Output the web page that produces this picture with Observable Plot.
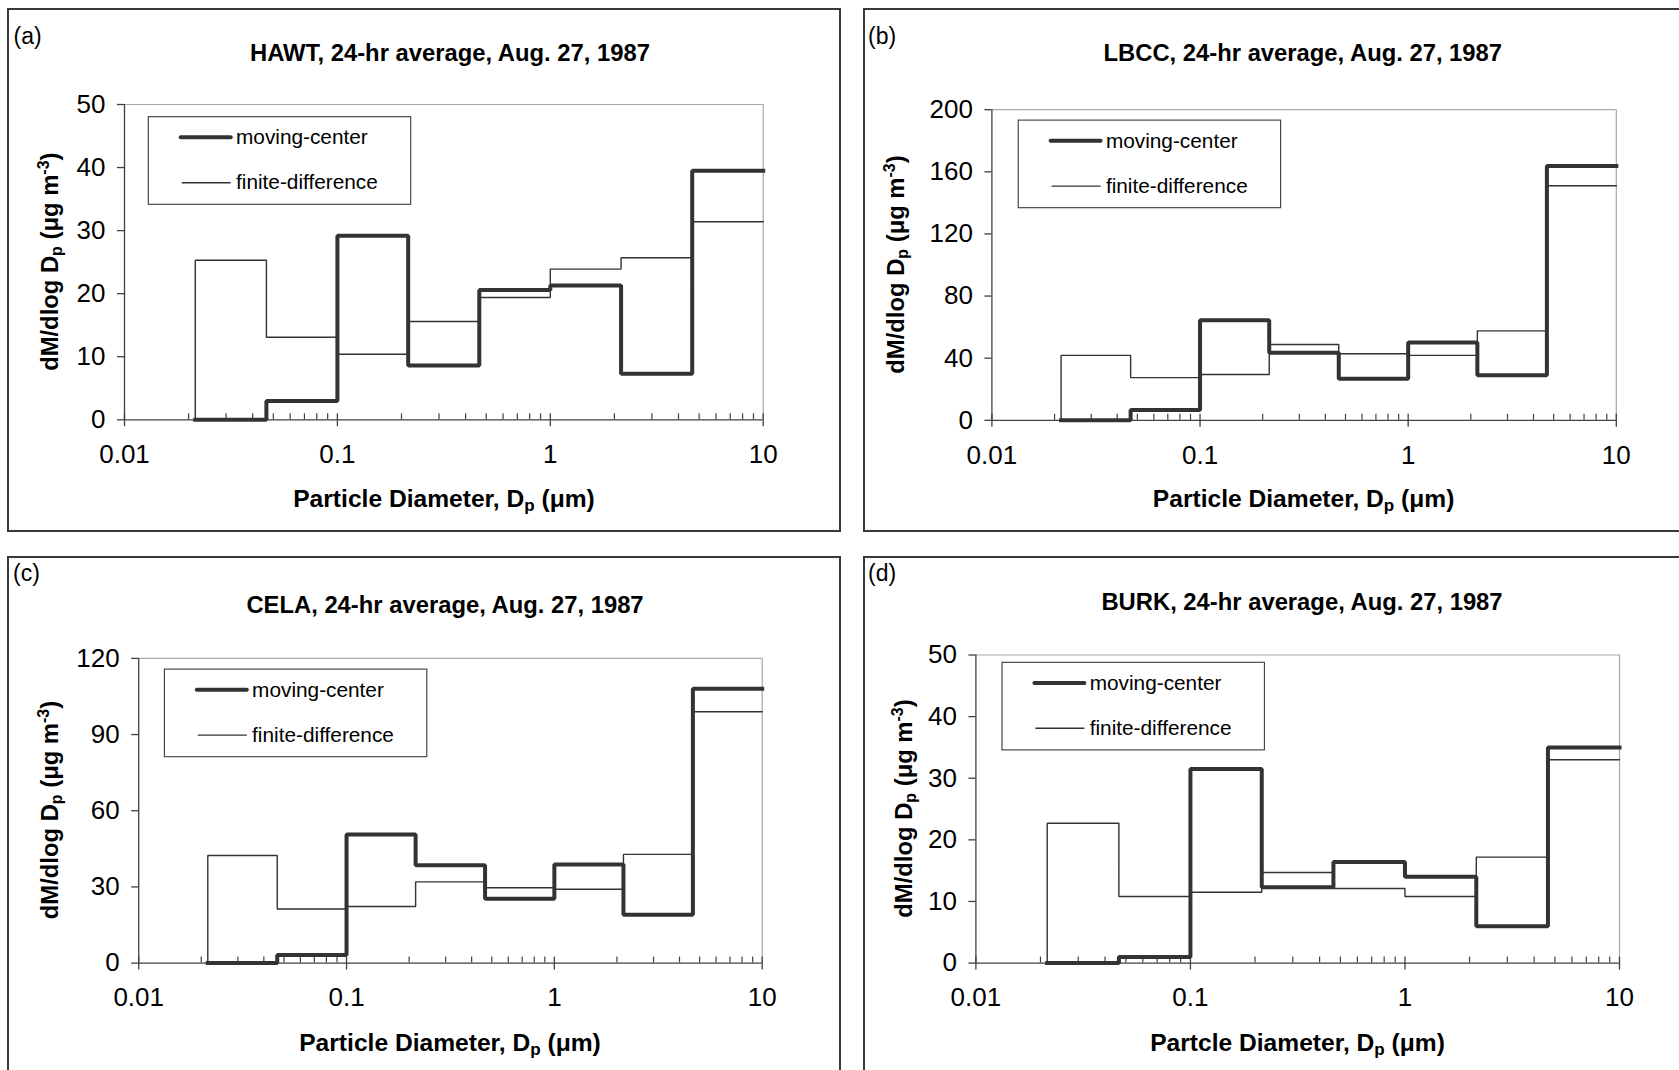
<!DOCTYPE html>
<html>
<head>
<meta charset="utf-8">
<script src="https://cdn.jsdelivr.net/npm/d3@7"></script>
<script src="https://cdn.jsdelivr.net/npm/@observablehq/plot@0.6"></script>
<style>
html, body { margin: 0; padding: 0; background: #fff; width: 1679px; height: 1070px; overflow: hidden; }
#page { position: relative; width: 1679px; height: 1070px; overflow: hidden; font-family: "Liberation Sans", Arial, sans-serif; }
.box { position: absolute; border: 2px solid #383838; box-sizing: border-box; }
.plotwrap { position: absolute; }
.plotwrap svg { display: block; }
#overlay { position: absolute; left: 0; top: 0; }
</style>
</head>
<body>
<div id="page"></div>
<script>
// ---------------- data ----------------
const binEdges = [0.0215, 0.0464, 0.1, 0.215, 0.464, 1, 2.15, 4.64, 10];
const xTickValues = [0.01, 0.1, 1, 10];
const xTickLabels = ["0.01", "0.1", "1", "10"];
const minorTicks = [0.02, 0.03, 0.04, 0.05, 0.06, 0.07, 0.08, 0.09,
                    0.2, 0.3, 0.4, 0.5, 0.6, 0.7, 0.8, 0.9,
                    2, 3, 4, 5, 6, 7, 8, 9];
const seriesNames = ["moving-center", "finite-difference"];

const hawtMoving = [0, 3.0, 29.2, 8.6, 20.6, 21.3, 7.3, 39.5];
const hawtFinite = [25.3, 13.1, 10.4, 15.6, 19.4, 23.9, 25.7, 31.4];
const lbccMoving = [0, 6.6, 64.4, 43.5, 26.8, 50.1, 29.0, 163.7];
const lbccFinite = [41.8, 27.5, 29.5, 48.8, 42.9, 41.8, 57.6, 151.0];
const celaMoving = [0, 3.2, 50.6, 38.5, 25.3, 38.8, 19.0, 108.0];
const celaFinite = [42.4, 21.3, 22.3, 32.0, 29.7, 29.1, 42.8, 99.0];
const burkMoving = [0, 1.0, 31.5, 12.3, 16.4, 14.0, 6.0, 35.0];
const burkFinite = [22.7, 10.8, 11.5, 14.7, 12.1, 10.8, 17.2, 33.0];

const yTicksA = [0, 10, 20, 30, 40, 50];
const yTicksB = [0, 40, 80, 120, 160, 200];
const yTicksC = [0, 30, 60, 90, 120];
const yTicksD = [0, 10, 20, 30, 40, 50];

const tags = ["(a)", "(b)", "(c)", "(d)"];
const titles = [
  "HAWT, 24-hr average, Aug. 27, 1987",
  "LBCC, 24-hr average, Aug. 27, 1987",
  "CELA, 24-hr average, Aug. 27, 1987",
  "BURK, 24-hr average, Aug. 27, 1987"
];
const xTitleWords = ["Particle Diameter, D", "Particle Diameter, D", "Particle Diameter, D", "Partcle Diameter, D"];

// ---------------- layout (page pixels) ----------------
const layouts = [
  {box:{l:7,t:8,w:834,h:523.5}, plot:{l:124,r:762.7,t:104,b:419.3}, tag:{x:13.5,y:44.3}, title:{x:450,y:60.7}, xTitle:{x:444,y:507}, yTitle:{x:58,y:261.7}, legend:{l:148.3,t:116.7}},
  {box:{l:863,t:8,w:830,h:523.5}, plot:{l:991.4,r:1615.8,t:109.2,b:419.8}, tag:{x:868,y:44.3}, title:{x:1302.8,y:60.7}, xTitle:{x:1303.6,y:507}, yTitle:{x:904,y:264.5}, legend:{l:1018.2,t:120.1}},
  {box:{l:7,t:556,w:834,h:530}, plot:{l:138.2,r:761.7,t:657.9,b:962.6}, tag:{x:13,y:581}, title:{x:445,y:613}, xTitle:{x:450,y:1050.5}, yTitle:{x:58,y:810}, legend:{l:164.4,t:669.1}},
  {box:{l:863,t:556,w:830,h:530}, plot:{l:975.4,r:1619,t:654.5,b:962.6}, tag:{x:868,y:581}, title:{x:1302,y:610}, xTitle:{x:1297.5,y:1050.5}, yTitle:{x:912,y:808.5}, legend:{l:1002,t:662.3}}
];

const panels = [
  {moving: hawtMoving, finite: hawtFinite, yTicks: yTicksA},
  {moving: lbccMoving, finite: lbccFinite, yTicks: yTicksB},
  {moving: celaMoving, finite: celaFinite, yTicks: yTicksC},
  {moving: burkMoving, finite: burkFinite, yTicks: yTicksD}
];

const FONT = '"Liberation Sans", Arial, sans-serif';
const INK = "#333333";
const AXIS = "#404040";
const TICK_FS = 26;
const BOLD_FS = 23.8;
const XT_FS = 24.6;
const LEG_FS = 20.8;

function stepPoints(values) {
  const pts = [{x: binEdges[0], y: 0}];
  values.forEach((v, i) => pts.push({x: binEdges[i], y: v}));
  pts.push({x: binEdges[binEdges.length - 1], y: values[values.length - 1]});
  return pts;
}

function xLabel(d) {
  const i = xTickValues.findIndex(v => Math.abs(v - d) < 1e-9 * Math.max(1, v));
  return i >= 0 ? xTickLabels[i] : String(d);
}

const page = document.getElementById("page");

panels.forEach((p, k) => {
  const L = layouts[k];
  const ymax = p.yTicks[p.yTicks.length - 1];

  const box = document.createElement("div");
  box.className = "box";
  Object.assign(box.style, {left: L.box.l + "px", top: L.box.t + "px", width: L.box.w + "px", height: L.box.h + "px"});
  page.appendChild(box);

  const wrap = document.createElement("div");
  wrap.className = "plotwrap";
  Object.assign(wrap.style, {left: L.box.l + "px", top: L.box.t + "px", width: L.box.w + "px", height: L.box.h + "px"});

  const chart = Plot.plot({
    width: L.box.w,
    height: L.box.h,
    marginLeft: L.plot.l - L.box.l,
    marginRight: L.box.l + L.box.w - L.plot.r,
    marginTop: L.plot.t - L.box.t,
    marginBottom: L.box.t + L.box.h - L.plot.b,
    x: {type: "log", domain: [0.01, 10], label: null},
    y: {domain: [0, ymax], label: null},
    style: {fontFamily: FONT, background: "transparent", color: "#000", overflow: "visible"},
    marks: [
      Plot.ruleY([ymax], {stroke: "#a9a9a9", strokeWidth: 1.2}),
      Plot.ruleX([10], {stroke: "#a9a9a9", strokeWidth: 1.2}),
      Plot.ruleX([0.01], {stroke: AXIS, strokeWidth: 1.3}),
      Plot.axisY({ticks: p.yTicks, tickSize: 7, tickPadding: 12, fontSize: TICK_FS, tickFormat: d => String(d), stroke: AXIS, strokeWidth: 1.3, label: null}),
      Plot.axisX({ticks: xTickValues, tickSize: 0, tickPadding: 24.9, fontSize: TICK_FS, tickFormat: xLabel, label: null}),
      Plot.ruleX(minorTicks, {y1: 0, y2: 0, insetTop: -6, stroke: AXIS, strokeWidth: 1.2}),
      Plot.ruleX(xTickValues, {y1: 0, y2: 0, insetTop: -6, insetBottom: -7, stroke: AXIS, strokeWidth: 1.3}),
      Plot.ruleY([0], {stroke: AXIS, strokeWidth: 1.3}),
      Plot.line(stepPoints(p.finite), {x: "x", y: "y", curve: "step-after", stroke: INK, strokeWidth: 1.4, strokeLinejoin: "miter"}),
      Plot.line(stepPoints(p.moving), {x: "x", y: "y", curve: "step-after", stroke: INK, strokeWidth: 4, strokeLinejoin: "miter", strokeLinecap: "square"})
    ]
  });
  wrap.appendChild(chart);
  page.appendChild(wrap);
});

// ---------------- text overlay ----------------
const svg = d3.select(page).append("svg")
  .attr("id", "overlay")
  .attr("width", 1679).attr("height", 1070)
  .style("font-family", FONT);

layouts.forEach((L, k) => {
  svg.append("text").attr("x", L.tag.x).attr("y", L.tag.y)
    .attr("font-size", 23).attr("fill", "#000").text(tags[k]);
  svg.append("text").attr("x", L.title.x).attr("y", L.title.y)
    .attr("text-anchor", "middle").attr("font-size", BOLD_FS).attr("font-weight", "bold")
    .attr("fill", "#000").text(titles[k]);
  const xt = svg.append("text").attr("x", L.xTitle.x).attr("y", L.xTitle.y)
    .attr("text-anchor", "middle").attr("font-size", XT_FS).attr("font-weight", "bold").attr("fill", "#000");
  xt.append("tspan").text(xTitleWords[k]);
  xt.append("tspan").attr("font-size", 17).attr("dy", 4).text("p");
  xt.append("tspan").attr("dy", -4).text(" (\u03bcm)");
  const yt = svg.append("text")
    .attr("transform", `translate(${L.yTitle.x},${L.yTitle.y}) rotate(-90)`)
    .attr("text-anchor", "middle").attr("font-size", BOLD_FS).attr("font-weight", "bold").attr("fill", "#000");
  yt.append("tspan").text("dM/dlog D");
  yt.append("tspan").attr("font-size", 16).attr("dy", 4).text("p");
  yt.append("tspan").attr("dy", -4).text(" (\u03bcg m");
  yt.append("tspan").attr("font-size", 16).attr("dy", -9).text("-3");
  yt.append("tspan").attr("dy", 9).text(")");
  const g = svg.append("g").attr("transform", `translate(${L.legend.l},${L.legend.t})`);
  g.append("rect").attr("x", 0).attr("y", 0).attr("width", 262.4).attr("height", 87.6)
    .attr("fill", "#fff").attr("stroke", "#3a3a3a").attr("stroke-width", 1.1);
  g.append("line").attr("x1", 32.4).attr("x2", 82.4).attr("y1", 20.6).attr("y2", 20.6)
    .attr("stroke", INK).attr("stroke-width", 4).attr("stroke-linecap", "round");
  g.append("line").attr("x1", 33.4).attr("x2", 82.4).attr("y1", 66).attr("y2", 66)
    .attr("stroke", INK).attr("stroke-width", 1.4);
  g.append("text").attr("x", 87.7).attr("y", 27.6).attr("font-size", LEG_FS).attr("fill", "#000").text(seriesNames[0]);
  g.append("text").attr("x", 87.7).attr("y", 72.6).attr("font-size", LEG_FS).attr("fill", "#000").text(seriesNames[1]);
});
</script>
</body>
</html>
